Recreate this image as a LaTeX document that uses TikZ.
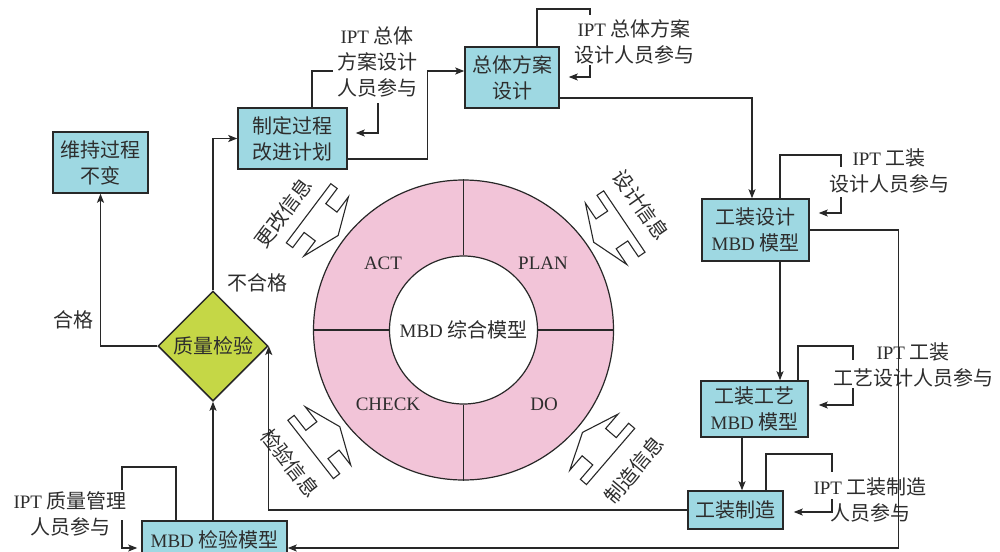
\documentclass[tikz,border=0pt]{standalone}
\usepackage{fontspec}
\setmainfont{Liberation Serif}[Scale=0.95]
\newfontfamily\cjk{Noto Sans CJK SC}
\usetikzlibrary{arrows.meta,shapes.geometric,calc}
\definecolor{boxc}{RGB}{158,216,226}
\definecolor{dia}{RGB}{197,215,70}
\definecolor{pinkc}{RGB}{242,196,216}
\definecolor{linec}{RGB}{40,40,40}
\definecolor{txt}{RGB}{45,45,45}
\newcommand\lat[1]{{\rmfamily #1}}
\newcommand\infoshape[2]{%
  \begin{scope}[shift={($(ring.center)+(#1:172)$)}, rotate={-(#1)}]
    \draw[info] (-15,0) -- (0,-37) -- (0,-18) -- (14,-18) -- (14,-37) -- (22,-37)
      -- (22,37) -- (14,37) -- (14,18) -- (0,18) -- (0,37) -- cycle;
  \end{scope}}
\begin{document}
\begin{tikzpicture}[x=1pt,y=-1pt,
  every node/.style={text=txt, font=\fontsize{20}{26}\selectfont\cjk, inner sep=0pt},
  box/.style={draw=linec, fill=boxc, line width=1.5pt, align=center},
  lbl/.style={align=center},
  conn/.style={draw=linec, line width=1.2pt},
  arr/.style={conn, -{Stealth[length=9pt,width=7pt,inset=2pt]}},
  info/.style={draw=linec, line width=1.1pt, line join=miter},
  latin/.style={font=\fontsize{20}{24}\selectfont\rmfamily},
]
\useasboundingbox (0,0) rectangle (1000,551);
\clip (0,0) rectangle (1000,551);
\fill[white] (0,0) rectangle (1000,551);

% ring
\node[circle, draw=linec, fill=pinkc, line width=1.2pt, minimum size=300pt] (ring) at (463.5,330) {};
\node[circle, draw=linec, fill=white, line width=1.2pt, minimum size=148pt] (core) at (463.5,330) {\lat{MBD} 综合模型};
\draw[conn] (ring.north) -- (core.north);
\draw[conn] (ring.south) -- (core.south);
\draw[conn] (ring.west) -- (core.west);
\draw[conn] (ring.east) -- (core.east);
\node[latin] (act) at (383,263) {ACT};
\node[latin] (plan) at (543,263) {PLAN};
\node[latin] (check) at (388,404) {CHECK};
\node[latin] (do) at (544,404) {DO};

% info arrows
\infoshape{-34}{}
\infoshape{40.7}{}
\infoshape{-143}{}
\infoshape{142}{}
\node[rotate=-55] (i1) at (641,205) {设计信息};
\node[rotate=50] (i2) at (634,470) {制造信息};
\node[rotate=53] (i3) at (283,213) {更改信息};
\node[rotate=-52] (i4) at (290,463) {检验信息};

% boxes
\node[box, minimum width=95pt, minimum height=61pt] (b1) at (100.5,162.5) {维持过程\\不变};
\node[box, minimum width=109pt, minimum height=61pt] (b2) at (292.5,138.5) {制定过程\\改进计划};
\node[box, minimum width=94pt, minimum height=61pt] (b3) at (512,77.5) {总体方案\\设计};
\node[box, minimum width=107pt, minimum height=62pt] (b4) at (755.5,230) {工装设计\\\lat{MBD} 模型};
\node[box, minimum width=107pt, minimum height=56pt] (b5) at (754.5,409) {工装工艺\\\lat{MBD} 模型};
\node[box, minimum width=95pt, minimum height=38pt] (b6) at (735.5,510) {工装制造};
\node[box, minimum width=145pt, minimum height=38pt] (b7) at (214.5,540) {\lat{MBD} 检验模型};
\node[diamond, aspect=1, draw=linec, fill=dia, line width=1.5pt, minimum width=110pt, minimum height=110pt] (q) at (213,346) {质量检验};

% labels
\node[lbl] (l1) at (377,62) {\lat{IPT} 总体\\方案设计\\人员参与};
\node[lbl] (l2) at (634,41.5) {\lat{IPT} 总体方案\\设计人员参与};
\node[lbl] (l3) at (889,171) {\lat{IPT} 工装\\设计人员参与};
\node[lbl] (l4) at (913,365) {\lat{IPT} 工装\\工艺设计人员参与};
\node[lbl] (l5) at (870,500) {\lat{IPT} 工装制造\\人员参与};
\node[lbl] (l6) at (70,514) {\lat{IPT} 质量管理\\人员参与};
\node (ok) at (73,320) {合格};
\node (nok) at (257,283) {不合格};

% main connectors
\draw[arr] (q.west) -| (b1.south);
\draw[arr] (q.north) |- (b2.west);
\draw[arr] ([yshift=-20.5pt]b2.east) -- ++(80,0) |- ([yshift=6.5pt]b3.west);
\draw[arr] ([yshift=-20.5pt]b3.east) -| ([xshift=-3.5pt]b4.north);
\draw[arr] (b4.east) -- ++(89,0) |- ([yshift=-8pt]b7.east);
\draw[arr] ([xshift=24.5pt]b4.south) -- ([xshift=24.5pt]b4.south |- b5.north);
\draw[arr] ([xshift=-12.5pt]b5.south) -- ([xshift=-12.5pt]b5.south |- b6.north);
\draw[arr] (b6.west) -| (q.east);
\draw[arr] (b7.north -| q.south) -- (q.south);

% participation loops
\coordinate (p1a) at (333,71);
\coordinate (p1b) at (378,103);
\draw[conn] ([xshift=19.5pt]b2.north) |- (p1a);
\draw[arr] (p1b) |- ($(b2.east)+(8,-5.5)$);

\coordinate (p2a) at (590,9);
\coordinate (p2b) at (590,15);
\coordinate (p2c) at (590,65);
\draw[conn] ([xshift=25pt]b3.north) |- (p2a) -- (p2b);
\draw[arr] (p2c) |- ($(b3.east)+(9,-0.5)$);

\coordinate (p3a) at (841,155);
\coordinate (p3b) at (841,167);
\coordinate (p3c) at (841,197);
\draw[conn] ([xshift=24.5pt]b4.north) |- (p3a) -- (p3b);
\draw[arr] (p3c) |- ($(b4.east)+(9,-17)$);

\coordinate (p4a) at (853,346);
\coordinate (p4b) at (853,360);
\coordinate (p4c) at (853,388);
\draw[conn] ([xshift=43.5pt]b5.north) |- (p4a) -- (p4b);
\draw[arr] (p4c) |- ($(b5.east)+(10,-4)$);

\coordinate (p5a) at (832,454);
\coordinate (p5b) at (832,472);
\coordinate (p5c) at (832,499);
\draw[conn] ([xshift=30.5pt]b6.north) |- (p5a) -- (p5b);
\draw[arr] (p5c) |- ($(b6.east)+(10,2)$);

\coordinate (p6a) at (122,467);
\coordinate (p6b) at (122,490);
\coordinate (p6c) at (122,520);
\draw[conn] ([xshift=-38.5pt]b7.north) |- (p6a) -- (p6b);
\draw[arr] (p6c) |- ($(b7.west)+(-4,8)$);
\end{tikzpicture}
\end{document}
